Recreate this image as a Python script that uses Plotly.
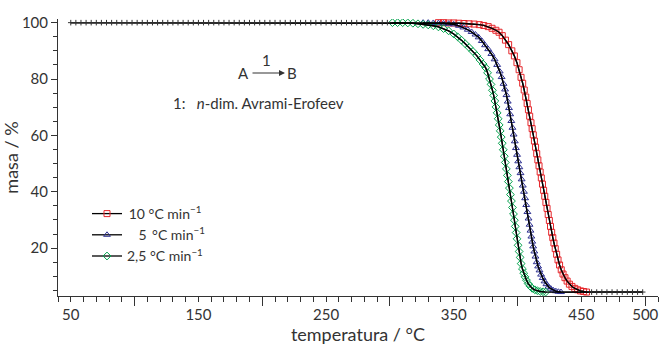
import plotly.graph_objects as go

# ---------------- data ----------------
T_START = 50
T_END = 498
M_TOP = 100
M_BASE = 4.4

# 10 °C/min (red squares)
T_10 = [338, 342, 346, 350, 354, 358, 362, 366, 370, 373.5, 377, 380, 383, 385.5, 388, 390.5, 393, 395.5,
        397.5, 399.5, 401.2, 402.7, 404.0, 405.2, 406.4, 407.5, 408.5, 409.5, 410.5, 411.4, 412.3, 413.2,
        414.1, 415.0, 415.9, 416.8, 417.7, 418.6, 419.5, 420.4, 421.3, 422.2, 423.1, 424.0, 424.9, 425.8,
        426.7, 427.6, 428.5, 429.5, 430.6, 431.7, 432.9, 434.2, 435.6, 437.1, 438.8, 440.6, 442.6, 444.8,
        447.0, 449.3, 451.7, 454.0]
M_10 = [100, 100, 99.9, 99.9, 99.8, 99.7, 99.6, 99.5, 99.3, 99.0, 98.6, 98.0, 97.3, 96.6, 95.4, 93.8, 92.2, 90.0,
        88.2, 85.8, 83.3, 80.6, 78.5, 76.1, 73.6, 71.3, 69.1, 66.8, 64.5, 62.4, 60.2, 58.0,
        55.8, 53.5, 51.3, 49.2, 47.0, 44.9, 42.7, 40.5, 38.4, 36.2, 34.1, 31.9, 29.8, 27.7,
        25.6, 23.7, 21.8, 19.8, 17.8, 15.8, 14.0, 12.3, 10.8, 9.5, 8.3, 7.2, 6.4, 5.7,
        5.2, 4.8, 4.6, 4.4]

# 5 °C/min (blue triangles)
T_5 = [326, 330, 334, 338, 342, 346, 350, 354, 357.5, 361, 364, 367, 369.5, 372, 374.5, 377, 379.5, 382, 384,
       386, 387.5, 389, 390.2, 391.3, 392.3, 393.3, 394.2, 395.1, 396.0, 396.9, 397.8, 398.7, 399.6, 400.5,
       401.4, 402.3, 403.2, 404.1, 405.0, 405.9, 406.8, 407.7, 408.6, 409.4, 410.1, 410.8, 411.5, 412.2,
       413.1, 414.0, 415.0, 416.1, 417.2, 418.4, 419.7, 421.1, 422.6, 424.2, 426.0, 428.0, 430.0, 432.0, 434.0]
M_5 = [100, 100, 99.9, 99.8, 99.7, 99.6, 99.4, 98.9, 98.3, 97.5, 96.7, 95.8, 94.8, 93.5, 92.0, 90.6, 88.9, 87.0, 85.0,
       82.7, 80.7, 78.3, 76.3, 74.3, 72.0, 69.7, 67.5, 65.1, 62.7, 60.3, 57.9, 55.5, 53.1, 50.8,
       48.7, 46.6, 44.4, 42.2, 40.0, 37.7, 35.3, 32.8, 30.5, 28.3, 26.2, 24.1, 22.3, 20.6,
       18.8, 17.0, 15.0, 13.5, 12.1, 10.6, 9.4, 8.2, 7.2, 6.3, 5.6, 5.0, 4.7, 4.5, 4.4]

# 2,5 °C/min (green diamonds)
T_25 = [302, 306, 310, 314, 318, 322, 326, 330, 334, 338, 342, 346, 350, 353, 356, 359, 362, 365, 368, 370.5,
        373, 375.0, 376.5, 378.0, 379.2, 380.3, 381.3, 382.2, 383.1, 384.0, 384.8, 385.6, 386.4, 387.2,
        388.0, 388.8, 389.6, 390.4, 391.2, 392.0, 392.8, 393.6, 394.4, 395.2, 396.0, 396.8, 397.5, 398.2,
        398.9, 399.6, 400.4, 401.2, 402.0, 402.8, 403.8, 404.8, 405.8, 407.0, 408.3, 409.8, 411.5, 413.5,
        415.5, 417.7, 420.0, 422.0]
M_25 = [100, 100, 100, 99.9, 99.8, 99.6, 99.4, 99.2, 98.9, 98.5, 97.9, 97.1, 96.0, 95.0, 93.8, 92.5, 91.2, 89.8, 88.3, 86.8,
        85.3, 84.0, 82.2, 80.0, 78.1, 76.0, 74.2, 72.2, 70.1, 68.0, 65.9, 63.7, 61.6, 59.4,
        57.2, 54.9, 52.6, 50.4, 48.1, 45.8, 43.6, 41.3, 39.0, 36.7, 34.4, 32.1, 29.9, 27.7,
        25.5, 23.3, 21.0, 18.8, 16.7, 14.5, 12.6, 11.1, 9.8, 8.6, 7.4, 6.5, 5.7, 5.2,
        4.9, 4.6, 4.5, 4.4]

# small black points on the plateaus
T_PLATEAU_TOP = [50, 54, 58, 62, 66, 70, 74, 78, 82, 86, 90, 94, 98, 102, 106, 110, 114, 118, 122, 126, 130,
                 134, 138, 142, 146, 150, 154, 158, 162, 166, 170, 174, 178, 182, 186, 190, 194, 198, 202,
                 206, 210, 214, 218, 222, 226, 230, 234, 238, 242, 246, 250, 254, 258, 262, 266, 270, 274,
                 278, 282, 286, 290, 294, 298]
T_PLATEAU_BASE = [458, 462, 466, 470, 474, 478, 482, 486, 490, 494, 498]

SERIES_NAMES = ["\u200910 °C min<sup>−1</sup>",
                "\u2007\u2009\u20095 \u2009°C min<sup>−1</sup>",
                "2,5 °C min<sup>−1</sup>"]

X_TICKS = [50, 150, 250, 350, 450, 500]
X_MAJOR = [100, 200, 300, 400, 500]
Y_TICKS = [20, 40, 60, 80, 100]

# ---------------- styles ----------------
FONT = "Lato, 'Open Sans', sans-serif"
TXT = "#333333"
series = [
    (T_10, M_10, SERIES_NAMES[0], "#e5262b", "square-open"),
    (T_5, M_5, SERIES_NAMES[1], "#2e3192", "triangle-up-open"),
    (T_25, M_25, SERIES_NAMES[2], "#00a14b", "diamond-open"),
]

fig = go.Figure()

for T, M, name, col, sym in series:
    fig.add_trace(go.Scatter(
        x=T, y=M, name=name, mode="lines+markers",
        line=dict(color="black", width=1.3),
        marker=dict(symbol=sym, size=6, color=col, line=dict(width=1.0, color=col)),
    ))

# black fit curves (full range) on top of symbols
for T, M, name, col, sym in series:
    fig.add_trace(go.Scatter(
        x=[T_START] + T + [T_END], y=[M_TOP] + M + [M_BASE], mode="lines",
        line=dict(color="black", width=1.3), showlegend=False, hoverinfo="skip",
    ))

fig.add_trace(go.Scatter(
    x=T_PLATEAU_TOP + T_PLATEAU_BASE,
    y=[M_TOP] * len(T_PLATEAU_TOP) + [M_BASE] * len(T_PLATEAU_BASE),
    mode="markers", showlegend=False, hoverinfo="skip",
    marker=dict(symbol="cross-thin", size=4, color="#333", line=dict(width=1, color="#333")),
))

# invisible trace to carry the long (100-step) ticks on an overlay axis
fig.add_trace(go.Scatter(x=[T_START], y=[M_TOP], xaxis="x2", mode="markers",
                         marker=dict(opacity=0), showlegend=False, hoverinfo="skip"))

W, H = 662, 346
L, R, Tm, B = 58, 4, 19, 50
fig.update_layout(
    width=W, height=H,
    margin=dict(l=L, r=R, t=Tm, b=B),
    paper_bgcolor="white", plot_bgcolor="white",
    font=dict(family=FONT, color=TXT, size=14),
    showlegend=True,
    legend=dict(x=(87 - L) / (W - L - R), y=(296 - 198) / (H - Tm - B), xanchor="left", yanchor="top",
                bgcolor="rgba(0,0,0,0)", font=dict(size=14, color=TXT), tracegroupgap=0,
                itemwidth=30),
    xaxis=dict(range=[40, 510], tickmode="array", tickvals=X_TICKS, ticks="outside", ticklen=5,
               tickcolor="#333", showline=True, linecolor="#333", linewidth=1, showgrid=False,
               zeroline=False, tickfont=dict(size=15, color=TXT),
               minor=dict(dtick=10, tick0=0, ticks="outside", ticklen=5, tickcolor="#333", showgrid=False),
               title=dict(text="temperatura / °C", font=dict(size=18, color=TXT), standoff=4)),
    xaxis2=dict(range=[40, 510], overlaying="x", side="bottom", tickmode="array", tickvals=X_MAJOR,
                ticks="outside", ticklen=9, tickcolor="#333", showticklabels=False, showline=False,
                showgrid=False, zeroline=False, matches="x"),
    yaxis=dict(range=[3, 101.3], tickmode="array", tickvals=Y_TICKS, ticks="outside", ticklen=6,
               tickcolor="#333", showline=True, linecolor="#333", linewidth=1, showgrid=False,
               zeroline=False, tickfont=dict(size=15, color=TXT),
               minor=dict(dtick=5, tick0=0, ticks="outside", ticklen=4, tickcolor="#333", showgrid=False),
               title=dict(text="masa / %", font=dict(size=18, color=TXT), standoff=4)),
)

def px(xp):
    return (xp - L) / (W - L - R)

def py(yp):
    return (H - B - yp) / (H - Tm - B)

ann = [
    dict(text="A", x=px(243), y=py(73)),
    dict(text="B", x=px(292), y=py(73)),
    dict(text="1", x=px(266), y=py(60)),
    dict(text="1:\u2003<i>n</i>-dim. Avrami-Erofeev", x=px(258), y=py(103)),
]
for a in ann:
    fig.add_annotation(xref="paper", yref="paper", showarrow=False, font=dict(size=15, color=TXT),
                       xanchor="center", yanchor="middle", **a)
fig.add_annotation(xref="paper", yref="paper", x=px(285), y=py(73), ax=-34, ay=0, text="",
                   showarrow=True, arrowhead=2, arrowsize=1, arrowwidth=1.2, arrowcolor=TXT)

fig.write_html("out.html", config={"displayModeBar": False},
               post_script="document.body.style.margin='0px';document.body.style.overflow='hidden';")
